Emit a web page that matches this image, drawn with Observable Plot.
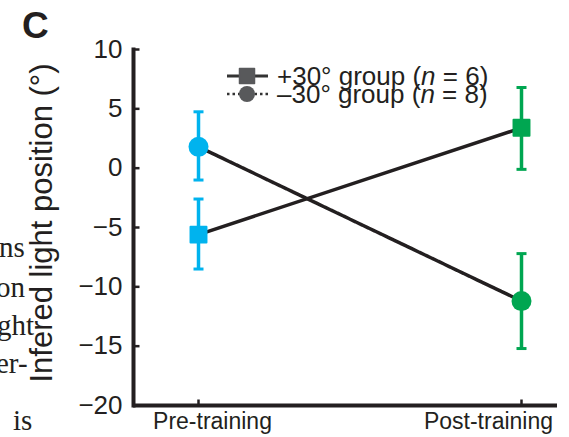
<!DOCTYPE html>
<html>
<head>
<meta charset="utf-8">
<script src="https://cdn.jsdelivr.net/npm/d3@7"></script>
<script src="https://cdn.jsdelivr.net/npm/@observablehq/plot@0.6"></script>
<style>
  html, body { margin: 0; padding: 0; background: #fff; }
  #chart { width: 569px; height: 437px; overflow: hidden; }
</style>
</head>
<body>
<div id="chart"></div>
<script>
// ---- data ----
const categories = ["Pre-training", "Post-training"];
const groups = ["+30° group", "–30° group"];
const groupN = [6, 8];
const plusMean = [-5.6, 3.4];
const plusLow = [-8.5, -0.1];
const plusHigh = [-2.6, 6.8];
const minusMean = [1.8, -11.2];
const minusLow = [-1.0, -15.2];
const minusHigh = [4.75, -7.2];
const yTicks = [-20, -15, -10, -5, 0, 5, 10];
const yLabel = "Infered light position (°)";
const panelLabel = "C";
const sideText = ["ns", "on", "ght", "er-", "is"];

// ---- styles ----
const ink = "#231f20";
const stageColors = ["#00b3ee", "#00a651"];
const sans = "'Liberation Sans', Arial, Helvetica, sans-serif";
const serif = "'Liberation Serif', 'Times New Roman', serif";

const rows = [];
categories.forEach((stage, i) => {
  rows.push({stage, group: groups[0], mean: plusMean[i], lo: plusLow[i], hi: plusHigh[i]});
  rows.push({stage, group: groups[1], mean: minusMean[i], lo: minusLow[i], hi: minusHigh[i]});
});

const hTickRight = {draw(ctx) { ctx.moveTo(0, 0); ctx.lineTo(6, 0); }};
const vTickUp = {draw(ctx) { ctx.moveTo(0, 0); ctx.lineTo(0, -6); }};
const cap = {draw(ctx) { ctx.moveTo(-5, 0); ctx.lineTo(5, 0); }};

const chart = Plot.plot({
  width: 569,
  height: 437,
  marginLeft: 133,
  marginRight: 12,
  marginTop: 49,
  marginBottom: 32,
  style: {fontFamily: sans, background: "white", color: ink, overflow: "visible"},
  x: {type: "point", domain: categories, range: [198, 521], padding: 0, axis: null},
  y: {domain: [-20, 10], axis: null},
  color: {domain: categories, range: stageColors},
  marks: [
    // axes
    Plot.frame({anchor: "left", stroke: ink, strokeWidth: 4}),
    Plot.ruleY([-20], {stroke: ink, strokeWidth: 4}),
    Plot.axisY(yTicks, {tickSize: 0, tickPadding: 11, fontSize: 26, fill: ink}),
    Plot.dot(yTicks, {y: d => d, frameAnchor: "left", symbol: hTickRight, fill: "none", stroke: ink, strokeWidth: 2.5}),
    Plot.dot(categories, {x: d => d, frameAnchor: "bottom", symbol: vTickUp, fill: "none", stroke: ink, strokeWidth: 2.5}),
    Plot.text([categories[0]], {x: d => d, text: d => d, frameAnchor: "bottom", lineAnchor: "bottom", dy: 23, dx: 14, fontSize: 23, fill: ink}),
    Plot.text([categories[1]], {x: d => d, text: d => d, frameAnchor: "bottom", lineAnchor: "bottom", dy: 23, dx: -33, fontSize: 23, fill: ink}),
    // connecting lines
    Plot.line(rows.filter(d => d.group === groups[0]), {x: "stage", y: "mean", stroke: ink, strokeWidth: 3.5}),
    Plot.line(rows.filter(d => d.group === groups[1]), {x: "stage", y: "mean", stroke: ink, strokeWidth: 3.5, strokeDasharray: "6,1"}),
    // error bars
    Plot.ruleX(rows, {x: "stage", y1: "lo", y2: "hi", stroke: "stage", strokeWidth: 3.5}),
    Plot.dot(rows, {x: "stage", y: "lo", symbol: cap, fill: "none", stroke: "stage", strokeWidth: 3}),
    Plot.dot(rows, {x: "stage", y: "hi", symbol: cap, fill: "none", stroke: "stage", strokeWidth: 3}),
    // markers
    Plot.dot(rows.filter(d => d.group === groups[0]), {x: "stage", y: "mean", symbol: "square", r: 9, fill: "stage", stroke: "stage", strokeWidth: 2, strokeLinejoin: "round"}),
    Plot.dot(rows.filter(d => d.group === groups[1]), {x: "stage", y: "mean", r: 10, fill: "stage"})
  ]
});

document.getElementById("chart").appendChild(chart);

// ---- annotations: panel letter, side text, y label, legend ----
const svg = d3.select(chart);
const ann = svg.append("g").attr("text-anchor", "start");

ann.append("text").attr("x", 22).attr("y", 38)
  .attr("font-family", sans).attr("font-weight", "bold").attr("font-size", 37).attr("fill", ink)
  .text(panelLabel);

const sideLayout = [[-1, 257], [-4, 297], [-3, 335], [-4, 373], [13, 430]];
sideText.forEach((t, i) => {
  ann.append("text").attr("x", sideLayout[i][0]).attr("y", sideLayout[i][1])
    .attr("font-family", serif).attr("font-size", 29).attr("fill", ink).text(t);
});

ann.append("text")
  .attr("transform", "translate(52,223) rotate(-90)")
  .attr("text-anchor", "middle")
  .attr("font-family", sans).attr("font-size", 31).attr("fill", ink)
  .text(yLabel);

// legend
const lg = ann.append("g").attr("font-family", sans).attr("font-size", 26).attr("fill", ink);
const legendRows = [{y: 85, sym: 76}, {y: 103, sym: 94}];
groups.forEach((g, i) => {
  const r = legendRows[i];
  lg.append("line").attr("x1", 227).attr("x2", 268).attr("y1", r.sym).attr("y2", r.sym)
    .attr("stroke", "#333").attr("stroke-width", i === 0 ? 3 : 2.5)
    .attr("stroke-dasharray", i === 0 ? null : "2.5,3");
  if (i === 0) {
    lg.append("rect").attr("x", 239.5).attr("y", r.sym - 7.5).attr("width", 15).attr("height", 15)
      .attr("fill", "#58595b").attr("stroke", "#58595b").attr("stroke-width", 1.5).attr("stroke-linejoin", "round");
  } else {
    lg.append("circle").attr("cx", 247).attr("cy", r.sym).attr("r", 8).attr("fill", "#58595b");
  }
  const t = lg.append("text").attr("x", 277).attr("y", r.y).attr("text-anchor", "start");
  t.append("tspan").text(g + " (");
  t.append("tspan").attr("font-style", "italic").text("n");
  t.append("tspan").text(" = " + groupN[i] + ")");
});
</script>
</body>
</html>
